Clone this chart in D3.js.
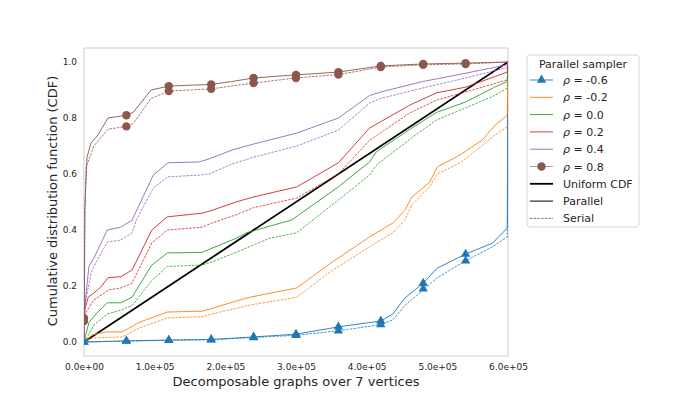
<!DOCTYPE html>
<html>
<head>
<meta charset="utf-8">
<script src="https://cdn.jsdelivr.net/npm/d3@7"></script>
<style>
  body { margin: 0; background: #fff; }
  text { font-family: "DejaVu Sans", sans-serif; fill: #262626; }
</style>
</head>
<body>
<div id="viz"></div>
<script>
// chart values (x = number of graphs, y = CDF)
var rhos = ["-0.6", "-0.2", "0.0", "0.2", "0.4", "0.8"];
var colors = ["#1f77b4", "#ff7f0e", "#2ca02c", "#d62728", "#9467bd", "#8c564b"];
var xTicks = [0, 100000, 200000, 300000, 400000, 500000, 600000];
var yTicks = [0, 0.2, 0.4, 0.6, 0.8, 1.0];
var markerX = [0, 60000, 120000, 180000, 240000, 300000, 360000, 420000, 480000, 540000];

var par_m06 = [[0,0],[60000,0.004],[120000,0.007],[180000,0.009],[240000,0.018],[300000,0.028],[360000,0.054],[420000,0.075],[437000,0.1],[454000,0.157],[480000,0.21],[500000,0.264],[540000,0.314],[578000,0.353],[599000,0.407],[600000,1]];
var ser_m06 = [[0,0],[60000,0.003],[120000,0.006],[180000,0.008],[240000,0.016],[300000,0.024],[360000,0.04],[420000,0.062],[437000,0.079],[454000,0.13],[480000,0.186],[500000,0.23],[540000,0.29],[578000,0.34],[599000,0.375],[600000,1]];
var par_m02 = [[0,0],[11000,0.025],[31000,0.036],[54000,0.036],[78000,0.07],[118000,0.107],[167000,0.11],[181000,0.12],[215000,0.146],[235000,0.16],[301000,0.193],[348000,0.28],[404000,0.375],[437000,0.425],[454000,0.47],[464000,0.518],[489000,0.57],[500000,0.625],[532000,0.668],[563000,0.72],[582000,0.775],[599000,0.81],[600000,1]];
var ser_m02 = [[0,0],[11000,0.014],[54000,0.018],[78000,0.05],[118000,0.086],[167000,0.09],[181000,0.1],[215000,0.12],[235000,0.132],[301000,0.16],[348000,0.25],[404000,0.34],[437000,0.39],[454000,0.436],[464000,0.49],[489000,0.554],[500000,0.6],[532000,0.64],[563000,0.7],[582000,0.74],[599000,0.768],[600000,1]];
var par_00 = [[0,0],[3000,0.03],[7000,0.07],[17000,0.1],[33000,0.14],[52000,0.14],[68000,0.16],[96000,0.275],[118000,0.318],[167000,0.32],[181000,0.335],[215000,0.37],[230000,0.39],[294000,0.436],[360000,0.554],[404000,0.643],[414000,0.68],[464000,0.764],[499000,0.82],[540000,0.857],[581000,0.91],[599000,0.93],[600000,1]];
var ser_00 = [[0,0],[3000,0.01],[14000,0.06],[33000,0.1],[52000,0.114],[68000,0.13],[96000,0.22],[118000,0.27],[167000,0.275],[181000,0.286],[215000,0.32],[262000,0.37],[301000,0.39],[360000,0.507],[404000,0.596],[414000,0.632],[464000,0.73],[499000,0.793],[540000,0.836],[581000,0.88],[599000,0.907],[600000,1]];
var par_02 = [[0,0],[500,0.08],[1000,0.115],[6000,0.16],[14000,0.175],[24000,0.197],[34000,0.23],[52000,0.233],[68000,0.257],[96000,0.4],[118000,0.447],[167000,0.46],[181000,0.47],[215000,0.5],[240000,0.518],[301000,0.554],[360000,0.64],[404000,0.764],[461000,0.846],[499000,0.89],[540000,0.91],[599000,0.964],[600000,1]];
var ser_02 = [[0,0],[500,0.06],[1500,0.1],[14000,0.15],[35000,0.186],[52000,0.193],[68000,0.21],[96000,0.354],[118000,0.4],[167000,0.41],[181000,0.425],[215000,0.454],[240000,0.48],[301000,0.514],[360000,0.6],[404000,0.72],[461000,0.818],[499000,0.864],[540000,0.893],[599000,0.936],[600000,1]];
var par_04 = [[0,0],[500,0.1],[2000,0.15],[7000,0.27],[14000,0.3],[33000,0.4],[52000,0.41],[68000,0.435],[98000,0.596],[119000,0.64],[163000,0.643],[177000,0.654],[210000,0.686],[240000,0.707],[301000,0.746],[360000,0.8],[404000,0.88],[420000,0.893],[479000,0.93],[540000,0.96],[599000,0.99],[600000,1]];
var ser_04 = [[0,0],[500,0.08],[2000,0.14],[10000,0.246],[14000,0.27],[33000,0.357],[52000,0.364],[68000,0.39],[74000,0.435],[98000,0.55],[119000,0.59],[163000,0.596],[177000,0.6],[210000,0.636],[240000,0.66],[301000,0.7],[360000,0.757],[404000,0.853],[420000,0.87],[479000,0.907],[540000,0.943],[599000,0.98],[600000,1]];
var par_08 = [[0,0.085],[400,0.12],[1200,0.47],[2000,0.53],[4300,0.66],[9900,0.71],[19900,0.74],[34000,0.8],[60000,0.81],[69500,0.82],[95000,0.9],[120000,0.914],[180000,0.92],[208500,0.93],[240000,0.943],[300000,0.954],[360000,0.964],[420000,0.986],[480000,0.993],[540000,0.996],[600000,1]];
var ser_08 = [[0,0.075],[400,0.1],[1200,0.45],[3000,0.625],[14000,0.7],[34000,0.76],[60000,0.77],[69500,0.78],[95000,0.87],[120000,0.896],[180000,0.904],[208500,0.914],[240000,0.925],[300000,0.943],[360000,0.955],[420000,0.982],[480000,0.99],[540000,0.993],[600000,1]];

var mk_par_m06 = [0, 0.004, 0.007, 0.009, 0.018, 0.028, 0.054, 0.075, 0.21, 0.314];
var mk_ser_m06 = [0, 0.003, 0.006, 0.008, 0.016, 0.024, 0.04, 0.062, 0.19, 0.29];
var mk_par_08 = [0.085, 0.81, 0.914, 0.92, 0.943, 0.954, 0.964, 0.986, 0.993, 0.996];
var mk_ser_08 = [0.075, 0.77, 0.896, 0.904, 0.925, 0.943, 0.955, 0.982, 0.99, 0.993];

var parallel = [par_m06, par_m02, par_00, par_02, par_04, par_08];
var serial = [ser_m06, ser_m02, ser_00, ser_02, ser_04, ser_08];

var W = 678, H = 407;
var svg = d3.select("#viz").append("svg").attr("width", W).attr("height", H);

var x = d3.scaleLinear().domain([0, 600000]).range([84, 508]);
var y = d3.scaleLinear().domain([-0.05, 1.05]).range([356, 48]);

svg.append("clipPath").attr("id", "plotclip")
  .append("rect").attr("x", 84).attr("y", 48).attr("width", 424).attr("height", 308);

// axes, no tick marks
var fmt = function(v) { return v.toExponential(1).replace(/e([+-])(\d)$/, "e$10$2"); };
var xAxis = svg.append("g").attr("transform", "translate(0,356)")
  .call(d3.axisBottom(x).tickValues(xTicks).tickFormat(fmt).tickSize(0).tickPadding(8));
var yAxis = svg.append("g").attr("transform", "translate(84,0)")
  .call(d3.axisLeft(y).tickValues(yTicks).tickFormat(d3.format(".1f")).tickSize(0).tickPadding(7));
[xAxis, yAxis].forEach(function(a) {
  a.select(".domain").remove();
  a.selectAll("text").attr("font-size", "9px").style("font-family", "DejaVu Sans").attr("fill", "#262626");
});

svg.append("rect").attr("x", 84).attr("y", 48).attr("width", 424).attr("height", 308)
  .style("fill", "none").style("stroke", "#cccccc").style("stroke-width", 1);

var plot = svg.append("g").attr("clip-path", "url(#plotclip)");
var line = d3.line().x(function(d) { return x(d[0]); }).y(function(d) { return y(d[1]); });

// uniform CDF
plot.append("path").datum([[0, 0], [600000, 1]]).attr("d", line)
  .style("fill", "none").style("stroke", "#000").style("stroke-width", 1.8);

serial.forEach(function(s, i) {
  plot.append("path").datum(s).attr("d", line)
    .style("fill", "none").style("stroke", colors[i]).style("stroke-width", 1)
    .style("stroke-dasharray", "2.5,1.2").style("opacity", 0.8);
});
parallel.forEach(function(s, i) {
  plot.append("path").datum(s).attr("d", line)
    .style("fill", "none").style("stroke", colors[i]).style("stroke-width", 1)
    .style("opacity", 0.9);
});

var tri = d3.symbol().type(d3.symbolTriangle).size(38);
[mk_par_m06, mk_ser_m06].forEach(function(m) {
  plot.selectAll(null).data(m).enter().append("path")
    .attr("d", tri)
    .attr("transform", function(d, i) { return "translate(" + x(markerX[i]) + "," + y(d) + ")"; })
    .style("fill", colors[0]);
});
[mk_par_08, mk_ser_08].forEach(function(m) {
  plot.selectAll(null).data(m).enter().append("circle")
    .attr("cx", function(d, i) { return x(markerX[i]); })
    .attr("cy", function(d) { return y(d); })
    .attr("r", 4.2)
    .style("fill", colors[5]);
});

// axis labels
svg.append("text").attr("x", 296).attr("y", 386).attr("font-size", "13px")
  .style("text-anchor", "middle").text("Decomposable graphs over 7 vertices");
svg.append("text").attr("transform", "translate(57,201) rotate(-90)").attr("font-size", "13px")
  .style("text-anchor", "middle").text("Cumulative distribution function (CDF)");

// legend
var lg = svg.append("g");
lg.append("rect").attr("x", 527).attr("y", 55).attr("width", 112).attr("height", 172).attr("rx", 3)
  .style("fill", "#fff").style("stroke", "#d8d8d8").style("stroke-width", 1);
lg.append("text").attr("x", 583).attr("y", 68).attr("font-size", "11px")
  .style("text-anchor", "middle").text("Parallel sampler");
var rowY = [80, 97.3, 114.6, 131.9, 149.2, 166.5, 183.8, 201.1, 218.4];
rhos.forEach(function(r, i) {
  var ry = rowY[i];
  lg.append("line").attr("x1", 530).attr("x2", 553).attr("y1", ry).attr("y2", ry)
    .style("stroke", colors[i]).style("stroke-width", 1).style("opacity", i == 5 ? 0.6 : 0.9);
  if (i == 0) lg.append("path").attr("d", tri).attr("transform", "translate(541.5," + ry + ")").style("fill", colors[0]);
  if (i == 5) lg.append("circle").attr("cx", 541.5).attr("cy", ry).attr("r", 4.2).style("fill", colors[5]);
  var t = lg.append("text").attr("x", 563).attr("y", ry + 4).attr("font-size", "11px");
  t.append("tspan").style("font-style", "italic").text("\u03c1");
  t.append("tspan").text(" = " + r);
});
var extra = [["Uniform CDF", "#000", 1.8, null], ["Parallel", "#000", 1, null], ["Serial", "#777", 1, "2.5,1.2"]];
extra.forEach(function(e, j) {
  var ry = rowY[6 + j];
  lg.append("line").attr("x1", 530).attr("x2", 553).attr("y1", ry).attr("y2", ry)
    .style("stroke", e[1]).style("stroke-width", e[2]).style("stroke-dasharray", e[3]);
  lg.append("text").attr("x", 563).attr("y", ry + 4).attr("font-size", "11px").text(e[0]);
});
</script>
</body>
</html>
